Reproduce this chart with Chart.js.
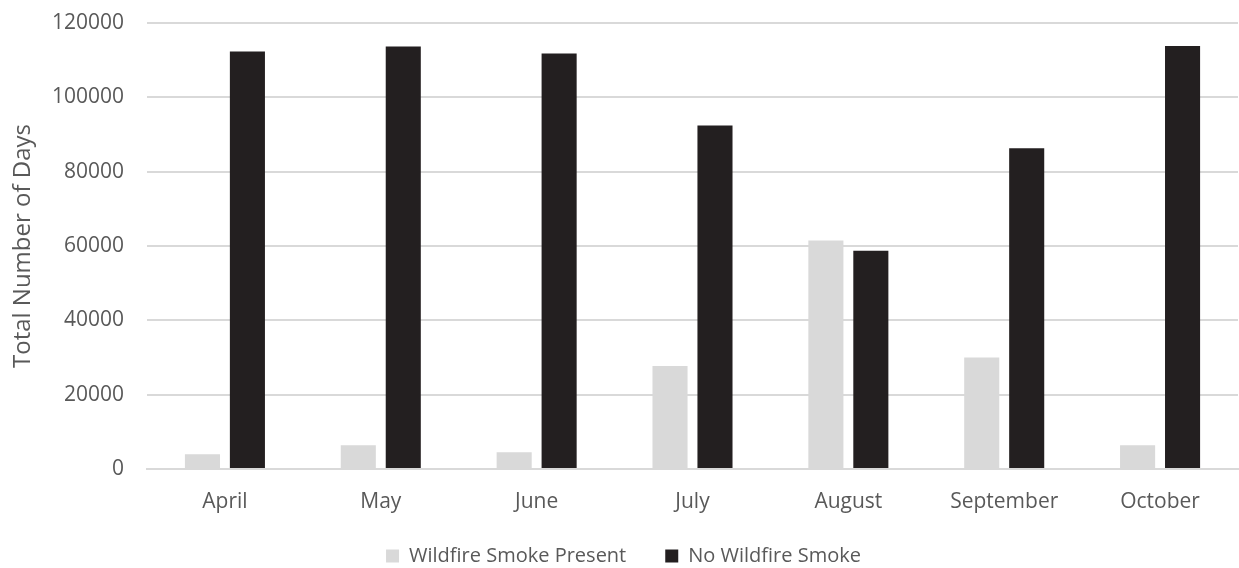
<!DOCTYPE html>
<html>
<head>
<meta charset="utf-8">
<script src="https://cdn.jsdelivr.net/npm/chart.js@4"></script>
<style>
  html, body { margin: 0; padding: 0; background: #fff; overflow: hidden; }
  #wrap { width: 1239px; height: 576px; position: relative; }
</style>
</head>
<body>
<div id="wrap"><canvas id="smokeChart"></canvas></div>
<script>
const months = ['April', 'May', 'June', 'July', 'August', 'September', 'October'];
const smokePresent = [4000, 6400, 4500, 27700, 61500, 30000, 6400];
const noSmoke = [112300, 113700, 111800, 92400, 58700, 86300, 113800];
const yTicks = [0, 20000, 40000, 60000, 80000, 100000, 120000];

const textColor = '#595959';
const gridColor = '#d9d9d9';
const fontFamily = "'Open Sans', sans-serif";

// x labels sit lower than the squeezed axis box, so widen its clip area
const unclipXLabels = {
  id: 'unclipXLabels',
  afterLayout(chart) {
    chart.scales.x.bottom += 30;
  }
};

const ctx = document.getElementById('smokeChart').getContext('2d');

new Chart(ctx, {
  type: 'bar',
  data: {
    labels: months,
    datasets: [
      {
        label: 'Wildfire Smoke Present',
        data: smokePresent,
        backgroundColor: '#d9d9d9',
        categoryPercentage: 0.577,
        barPercentage: 0.78
      },
      {
        label: 'No Wildfire Smoke',
        data: noSmoke,
        backgroundColor: '#231f20',
        categoryPercentage: 0.577,
        barPercentage: 0.78
      }
    ]
  },
  plugins: [unclipXLabels],
  options: {
    responsive: true,
    maintainAspectRatio: false,
    animation: false,
    layout: {
      padding: { top: 23, right: 1, bottom: 0, left: 9 }
    },
    scales: {
      y: {
        min: 0,
        max: 120000,
        afterBuildTicks: (scale) => {
          scale.ticks = yTicks.map(v => ({ value: v }));
        },
        afterFit: (scale) => {
          scale.width = 138;
          scale.paddingTop = 0; // top label may overhang the plot
        },
        border: { display: false },
        grid: { color: gridColor, lineWidth: 2, drawTicks: false },
        ticks: {
          color: textColor,
          padding: 23,
          font: { family: fontFamily, size: 21 },
          callback: (v) => String(v)
        },
        title: {
          display: true,
          text: 'Total Number of Days',
          color: textColor,
          font: { family: fontFamily, size: 24 },
          padding: 0
        }
      },
      x: {
        afterFit: (scale) => { scale.height = 38; },
        border: { display: true, color: gridColor, width: 2 },
        grid: { display: false, drawTicks: false },
        ticks: {
          color: textColor,
          padding: 20,
          font: { family: fontFamily, size: 21 }
        }
      }
    },
    plugins: {
      legend: {
        position: 'bottom',
        labels: {
          color: textColor,
          boxWidth: 13,
          boxHeight: 13,
          padding: 39,
          font: { family: fontFamily, size: 20 }
        }
      },
      tooltip: { enabled: false }
    }
  }
});
</script>
</body>
</html>
